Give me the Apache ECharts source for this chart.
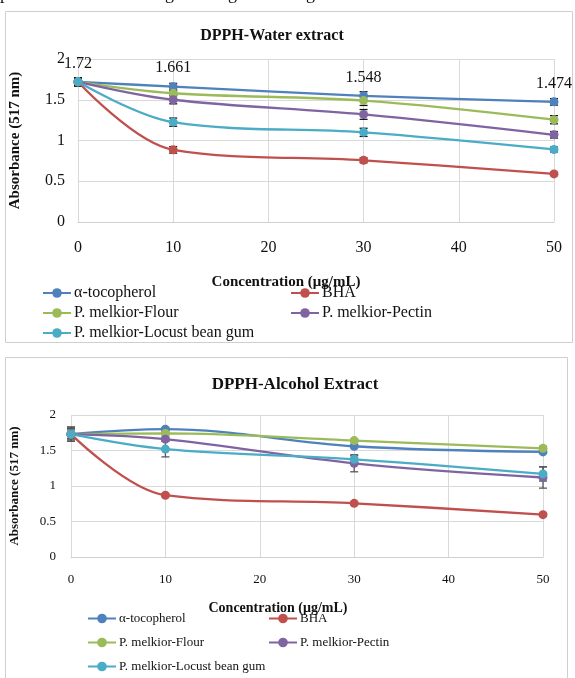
<!DOCTYPE html>
<html>
<head>
<meta charset="utf-8">
<script src="https://cdn.jsdelivr.net/npm/echarts@6/dist/echarts.min.js"></script>
<style>
  html, body { margin: 0; padding: 0; background: #fff; }
  #main { width: 575px; height: 678px; }
</style>
</head>
<body>
<div id="main"></div>
<script>
var concentrations = [0, 10, 30, 50];
var seriesNames = ['α-tocopherol', 'BHA', 'P. melkior-Flour', 'P. melkior-Pectin', 'P. melkior-Locust bean gum'];
var colors = ['#4F81BD', '#C0504D', '#9BBB59', '#8064A2', '#4BACC6'];

// water extract
var waterToco = [1.72, 1.661, 1.548, 1.474];
var waterBHA = [1.72, 0.885, 0.757, 0.59];
var waterFlour = [1.72, 1.58, 1.49, 1.255];
var waterPectin = [1.72, 1.50, 1.32, 1.07];
var waterLBG = [1.72, 1.225, 1.10, 0.89];
var waterErr = [
  [0.05, 0.04, 0.05, 0.04],
  [0.05, 0.04, 0.03, 0.02],
  [0.04, 0.03, 0.06, 0.05],
  [0.04, 0.05, 0.06, 0.04],
  [0.05, 0.05, 0.05, 0.03]
];

// alcohol extract
var alcToco = [1.73, 1.80, 1.56, 1.48];
var alcBHA = [1.73, 0.87, 0.756, 0.596];
var alcFlour = [1.73, 1.74, 1.64, 1.53];
var alcPectin = [1.73, 1.66, 1.32, 1.12];
var alcLBG = [1.73, 1.52, 1.376, 1.17];
var alcErr = [
  [0.1, 0.02, 0.02, 0.02],
  [0.02, 0.02, 0.02, 0.02],
  [0.08, 0.02, 0.02, 0.03],
  [0.06, 0.03, 0.12, 0.15],
  [0.1, 0.11, 0.05, 0.1]
];

var yTicks = [0, 0.5, 1, 1.5, 2];

var waterData = [waterToco, waterBHA, waterFlour, waterPectin, waterLBG];
var alcData = [alcToco, alcBHA, alcFlour, alcPectin, alcLBG];

var serif = 'Liberation Serif, Times New Roman, serif';

function pairs(vals) {
  return concentrations.map(function (c, i) { return [c, vals[i]]; });
}

function errSeries(vals, errs, axisIdx, color) {
  return {
    type: 'custom',
    xAxisIndex: axisIdx,
    yAxisIndex: axisIdx,
    z: 1,
    silent: true,
    data: concentrations.map(function (c, i) { return [c, vals[i], errs[i]]; }),
    renderItem: function (params, api) {
      var x = api.value(0), y = api.value(1), e = api.value(2);
      var hi = api.coord([x, y + e]);
      var lo = api.coord([x, y - e]);
      var st = { stroke: color, lineWidth: 1.3 };
      return {
        type: 'group',
        children: [
          { type: 'line', shape: { x1: hi[0], y1: hi[1], x2: lo[0], y2: lo[1] }, style: st },
          { type: 'line', shape: { x1: hi[0] - 4, y1: hi[1], x2: hi[0] + 4, y2: hi[1] }, style: st },
          { type: 'line', shape: { x1: lo[0] - 4, y1: lo[1], x2: lo[0] + 4, y2: lo[1] }, style: st }
        ]
      };
    }
  };
}

var series = [];
waterData.forEach(function (vals, k) {
  series.push(errSeries(vals, waterErr[k], 0, '#111'));
});
alcData.forEach(function (vals, k) {
  series.push(errSeries(vals, alcErr[k], 1, '#555'));
});
waterData.forEach(function (vals, k) {
  var s = {
    name: seriesNames[k], type: 'line', xAxisIndex: 0, yAxisIndex: 0,
    data: pairs(vals), smooth: 0.35, symbol: 'circle', symbolSize: 9, z: 3,
    itemStyle: { color: colors[k] }, lineStyle: { width: 2.3, color: colors[k] }
  };
  if (k === 0) {
    s.label = {
      show: true, position: 'top', distance: 6, color: '#111',
      fontFamily: serif, fontSize: 16,
      formatter: function (p) { return p.value[1]; }
    };
  }
  series.push(s);
});
alcData.forEach(function (vals, k) {
  series.push({
    name: seriesNames[k], type: 'line', xAxisIndex: 1, yAxisIndex: 1,
    data: pairs(vals), smooth: 0.35, symbol: 'circle', symbolSize: 9, z: 3,
    itemStyle: { color: colors[k] }, lineStyle: { width: 2.3, color: colors[k] }
  });
});

function xAx(idx, fs, margin) {
  return {
    type: 'value', gridIndex: idx, min: 0, max: 50, interval: 10,
    axisLine: { show: true, lineStyle: { color: '#d0d0d0' } },
    axisTick: { show: false },
    axisLabel: { fontFamily: serif, fontSize: fs, color: '#111', margin: margin },
    splitLine: { show: true, lineStyle: { color: '#d9d9d9' } }
  };
}
function yAx(idx, fs, margin, nameFs, nameGap) {
  return {
    type: 'value', gridIndex: idx, min: 0, max: 2, interval: 0.5,
    name: 'Absorbance (517 nm)', nameLocation: 'middle', nameGap: nameGap,
    nameTextStyle: { fontFamily: serif, fontSize: nameFs, fontWeight: 'bold', color: '#111' },
    axisLine: { show: false }, axisTick: { show: false },
    axisLabel: {
      fontFamily: serif, fontSize: fs, color: '#111', margin: margin,
      formatter: function (v) { return yTicks.indexOf(v) >= 0 ? String(v) : ''; }
    },
    splitLine: { show: true, lineStyle: { color: '#d9d9d9' } }
  };
}

function legendBlock(names, left, top, fs, gap) {
  return {
    data: names, orient: 'vertical', left: left, top: top,
    itemWidth: 28, itemHeight: 12, itemGap: gap, padding: 0,
    textStyle: { fontFamily: serif, fontSize: fs, color: '#111', padding: [0, 0, 0, -2] }
  };
}

var option = {
  animation: false,
  backgroundColor: '#fff',
  title: [
    { text: 'DPPH-Water extract', left: 267, top: 23, textAlign: 'center',
      textStyle: { fontFamily: serif, fontSize: 16, fontWeight: 'bold', color: '#111' } },
    { text: 'DPPH-Alcohol Extract', left: 290, top: 371, textAlign: 'center',
      textStyle: { fontFamily: serif, fontSize: 17, fontWeight: 'bold', color: '#111' } }
  ],
  grid: [
    { left: 75, right: 21, top: 59, height: 163 },
    { left: 68, right: 32, top: 415, height: 142 }
  ],
  xAxis: [xAx(0, 16, 18), xAx(1, 13, 16)],
  yAxis: [yAx(0, 16, 13, 15, 55), yAx(1, 13, 15, 13, 50)],
  legend: [
    legendBlock([seriesNames[0], seriesNames[2], seriesNames[4]], 42, 285, 16, 4),
    legendBlock([seriesNames[1], seriesNames[3]], 290, 285, 16, 4),
    legendBlock([seriesNames[0], seriesNames[2], seriesNames[4]], 87, 612, 13, 11),
    legendBlock([seriesNames[1], seriesNames[3]], 268, 612, 13, 11)
  ],
  graphic: [
    { type: 'text', left: 0, top: -15, z: 0,
      style: { text: 'pectin and locust bean gum are given in Figure 3.', fontFamily: serif, fontSize: 18, fill: '#111' } },
    { type: 'rect', shape: { x: 5.5, y: 11.5, width: 567, height: 331 }, z: -1,
      style: { fill: '#fff', stroke: '#cfcfcf', lineWidth: 1 } },
    { type: 'rect', shape: { x: 5.5, y: 357.5, width: 562, height: 330 }, z: -1,
      style: { fill: '#fff', stroke: '#cfcfcf', lineWidth: 1 } },
    { type: 'text', x: 286, y: 282, z: 5,
      style: { text: 'Concentration (μg/mL)', textAlign: 'center', textVerticalAlign: 'middle',
        fontFamily: serif, fontSize: 15, fontWeight: 'bold', fill: '#111' } },
    { type: 'text', x: 278, y: 608, z: 5,
      style: { text: 'Concentration (μg/mL)', textAlign: 'center', textVerticalAlign: 'middle',
        fontFamily: serif, fontSize: 14, fontWeight: 'bold', fill: '#111' } }
  ],
  series: series
};

var myChart = echarts.init(document.getElementById('main'));
myChart.setOption(option);
</script>
</body>
</html>
